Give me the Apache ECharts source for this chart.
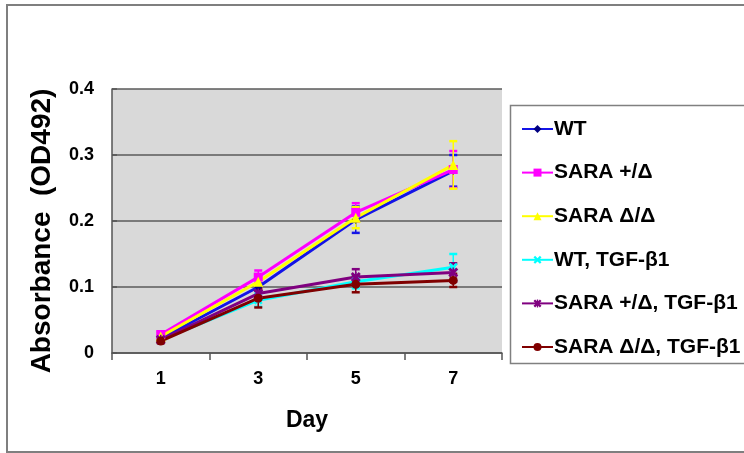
<!DOCTYPE html>
<html>
<head>
<meta charset="utf-8">
<script src="https://cdn.jsdelivr.net/npm/echarts@6/dist/echarts.min.js"></script>
<style>
  html, body { margin: 0; padding: 0; background: #fff; }
  #chart { width: 744px; height: 453px; }
</style>
</head>
<body>
<div id="chart"></div>
<script>
// values (absorbance, OD492)
const days = ['1', '3', '5', '7'];
const yTicks = [0, 0.1, 0.2, 0.3, 0.4];

const wt = [0.022, 0.100, 0.202, 0.276];
const wtErr = [0.004, 0.006, 0.020, 0.024];
const saraHet = [0.028, 0.115, 0.213, 0.278];
const saraHetErr = [0.004, 0.010, 0.014, 0.028];
const saraHom = [0.025, 0.108, 0.205, 0.285];
const saraHomErr = [0.004, 0.008, 0.016, 0.036];
const wtTgf = [0.020, 0.080, 0.108, 0.130];
const wtTgfErr = [0.003, 0.010, 0.010, 0.020];
const saraHetTgf = [0.020, 0.090, 0.115, 0.122];
const saraHetTgfErr = [0.003, 0.008, 0.012, 0.014];
const saraHomTgf = [0.018, 0.083, 0.104, 0.110];
const saraHomTgfErr = [0.003, 0.014, 0.012, 0.010];

const FONT = '"Liberation Sans", Arial, sans-serif';

const crossPath = 'path://M2,0L5,3L8,0L10,2L7,5L10,8L8,10L5,7L2,10L0,8L3,5L0,2Z';
const starPath = 'path://M2,0L5,3L8,0L10,2L7,5L10,8L8,10L5,7L2,10L0,8L3,5L0,2Z M4.2,0L5.8,0L5.8,10L4.2,10Z';

const groups = [
  { name: 'WT', values: wt, errs: wtErr, color: '#1414e6', marker: '#000080', symbol: 'diamond', size: 8 },
  { name: 'SARA +/Δ', values: saraHet, errs: saraHetErr, color: '#ff00ff', marker: '#ff00ff', symbol: 'rect', size: 9 },
  { name: 'SARA Δ/Δ', values: saraHom, errs: saraHomErr, color: '#ffff00', marker: '#ffff00', symbol: 'triangle', size: 10 },
  { name: 'WT, TGF-β1', values: wtTgf, errs: wtTgfErr, color: '#00ffff', marker: '#00ffff', symbol: crossPath, size: 9 },
  { name: 'SARA +/Δ, TGF-β1', values: saraHetTgf, errs: saraHetTgfErr, color: '#800080', marker: '#800080', symbol: starPath, size: 10 },
  { name: 'SARA Δ/Δ, TGF-β1', values: saraHomTgf, errs: saraHomTgfErr, color: '#800000', marker: '#800000', symbol: 'circle', size: 9 },
];

function errorSeries(g) {
  return {
    type: 'custom',
    name: g.name + ' err',
    data: g.values.map((v, i) => [i, v, g.errs[i]]),
    encode: { x: 0, y: 1 },
    z: 1,
    renderItem: (params, api) => {
      const i = api.value(0);
      const v = api.value(1);
      const e = api.value(2);
      const hi = api.coord([i, v + e]);
      const lo = api.coord([i, v - e]);
      const w = 4;
      const style = { stroke: g.color, lineWidth: 2.5 };
      return {
        type: 'group',
        children: [
          { type: 'line', shape: { x1: hi[0], y1: hi[1], x2: lo[0], y2: lo[1] }, style: { stroke: g.color, lineWidth: 1.5 } },
          { type: 'line', shape: { x1: hi[0] - w, y1: hi[1], x2: hi[0] + w, y2: hi[1] }, style },
          { type: 'line', shape: { x1: lo[0] - w, y1: lo[1], x2: lo[0] + w, y2: lo[1] }, style },
        ],
      };
    },
  };
}

const series = [];
groups.forEach(g => series.push(errorSeries(g)));
groups.forEach(g => series.push({
  type: 'line',
  name: g.name,
  data: g.values,
  symbol: g.symbol,
  symbolSize: g.size,
  showAllSymbol: true,
  z: 3,
  lineStyle: { color: g.color, width: 3 },
  itemStyle: { color: g.marker, borderWidth: 0 },
  emphasis: { disabled: true },
}));

const chart = echarts.init(document.getElementById('chart'));

chart.setOption({
  animation: false,
  textStyle: { fontFamily: FONT },
  graphic: [
    { type: 'rect', shape: { x: 7, y: 5, width: 760, height: 447 }, style: { fill: 'none', stroke: '#7f7f7f', lineWidth: 2 }, silent: true },
    { type: 'rect', shape: { x: 510.5, y: 105.5, width: 260, height: 258 }, style: { fill: '#fff', stroke: '#808080', lineWidth: 1.5 }, silent: true, z: -1 },
  ],
  grid: {
    left: 112, right: 242, top: 89, bottom: 100,
    show: true, backgroundColor: '#d9d9d9', borderWidth: 0,
  },
  legend: {
    orient: 'vertical',
    left: 516,
    top: 112,
    itemWidth: 31,
    itemHeight: 10,
    itemGap: 19.6,
    data: groups.map(g => g.name),
    textStyle: { fontFamily: FONT, fontWeight: 'bold', fontSize: 21, color: '#000', lineHeight: 24, padding: [0, 0, 0, -4] },
    selectedMode: false,
  },
  xAxis: {
    type: 'category',
    data: days,
    name: 'Day',
    nameLocation: 'middle',
    nameGap: 56,
    nameTextStyle: { fontFamily: FONT, fontWeight: 'bold', fontSize: 23, color: '#000' },
    axisLine: { lineStyle: { color: '#555', width: 1.5 } },
    axisTick: { show: true, length: 7, lineStyle: { color: '#555', width: 1.5 } },
    axisLabel: { margin: 17, fontFamily: FONT, fontWeight: 'bold', fontSize: 18, color: '#000' },
  },
  yAxis: {
    type: 'value',
    min: yTicks[0],
    max: yTicks[yTicks.length - 1],
    interval: 0.1,
    name: 'Absorbance  (OD492)',
    nameLocation: 'middle',
    nameGap: 56,
    nameTextStyle: { fontFamily: FONT, fontWeight: 'bold', fontSize: 28, color: '#000', padding: [0, 20, 0, 0] },
    axisLine: { show: true, lineStyle: { color: '#555', width: 1.5 } },
    axisTick: { show: true, inside: true, length: 5, lineStyle: { color: '#555', width: 1.5 } },
    splitLine: { show: true, lineStyle: { color: '#5a5a5a', width: 1.5 } },
    axisLabel: {
      margin: 18, fontFamily: FONT, fontWeight: 'bold', fontSize: 18, color: '#000',
      formatter: v => (v === 0 ? '0' : v.toFixed(1)),
    },
  },
  series,
});
</script>
</body>
</html>
